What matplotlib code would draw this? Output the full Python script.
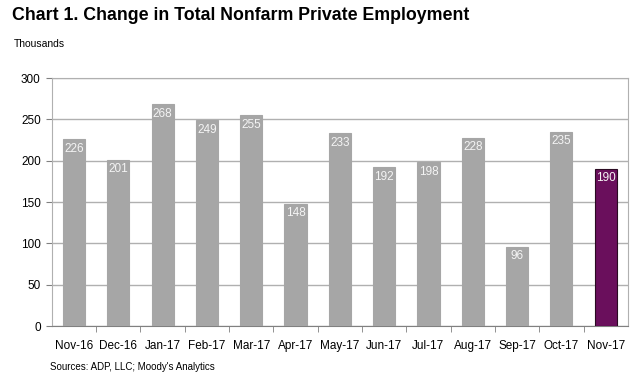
import matplotlib.pyplot as plt

months = ["Nov-16", "Dec-16", "Jan-17", "Feb-17", "Mar-17", "Apr-17", "May-17",
          "Jun-17", "Jul-17", "Aug-17", "Sep-17", "Oct-17", "Nov-17"]
jobs = [226, 201, 268, 249, 255, 148, 233, 192, 198, 228, 96, 235, 190]

plt.rcParams["font.family"] = ["Liberation Sans", "DejaVu Sans"]

fig = plt.figure(figsize=(6.4, 3.77), dpi=100)
ax = fig.add_axes([0.081, 0.135, 0.900, 0.658])

colors = ["#a6a6a6"] * (len(jobs) - 1) + ["#6a0f5c"]
edges = ["#a6a6a6"] * (len(jobs) - 1) + ["#2a0a22"]
x = range(len(months))
bars = ax.bar(x, jobs, width=0.5, color=colors, edgecolor=edges, linewidth=0.8, zorder=3)

for b, v in zip(bars, jobs):
    ax.text(b.get_x() + b.get_width() / 2, v - 4, str(v), ha="center", va="top",
            color="#f4f4f4", fontsize=8.5, zorder=4)

ax.set_xlim(-0.5, len(months) - 0.5)
ax.set_ylim(0, 300)
ax.set_yticks(range(0, 301, 50))
ax.yaxis.grid(True, color="#b0b0b0", linewidth=1.0, zorder=0)
ax.set_xticks(x)
ax.set_xticklabels(months, fontsize=8.5)
ax.tick_params(axis="x", length=0, pad=10)
ax.set_xticks([i + 0.5 for i in range(len(months) - 1)], minor=True)
ax.tick_params(axis="x", which="minor", length=4, color="#808080", direction="out")
ax.tick_params(axis="y", labelsize=8.5, length=4, color="#808080", pad=4)

for s in ax.spines.values():
    s.set_color("#b0b0b0")
ax.spines["bottom"].set_color("#808080")

fig.text(0.019, 0.96, "Chart 1. Change in Total Nonfarm Private Employment",
         fontsize=12.8, fontweight="bold", va="center", ha="left")
fig.text(0.022, 0.882, "Thousands", fontsize=7.5, va="center", ha="left")
fig.text(0.078, 0.026, "Sources: ADP, LLC; Moody's Analytics", fontsize=7, va="center", ha="left")

fig.savefig("out.png", dpi=100)
